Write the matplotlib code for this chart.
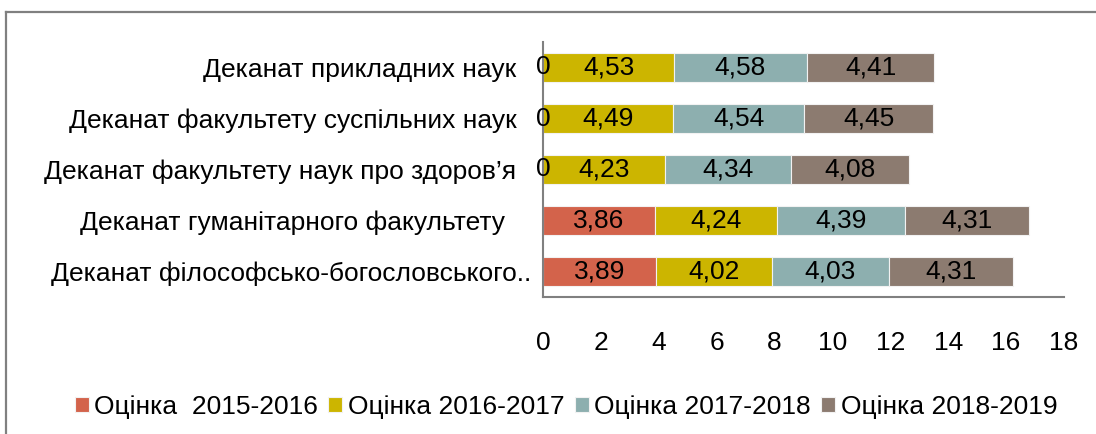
import matplotlib
matplotlib.use("Agg")
import matplotlib.pyplot as plt
from matplotlib.lines import Line2D
from matplotlib.transforms import ScaledTranslation

plt.rcParams['font.family'] = ['Liberation Sans', 'DejaVu Sans']

categories = [
    "Деканат прикладних наук",
    "Деканат факультету суспільних наук",
    "Деканат факультету наук про здоров’я",
    "Деканат гуманітарного факультету",
    "Деканат філософсько-богословського..",
]
series_names = ["Оцінка  2015-2016", "Оцінка 2016-2017", "Оцінка 2017-2018", "Оцінка 2018-2019"]
s2015 = [0, 0, 0, 3.86, 3.89]
s2016 = [4.53, 4.49, 4.23, 4.24, 4.02]
s2017 = [4.58, 4.54, 4.34, 4.39, 4.03]
s2018 = [4.41, 4.45, 4.08, 4.31, 4.31]
xticks = [0, 2, 4, 6, 8, 10, 12, 14, 16, 18]

colors = ["#D3634B", "#CCB500", "#8DAFAF", "#8C7B70"]
FS = 19

fig = plt.figure(figsize=(10.96, 4.34), dpi=100)
ax = fig.add_axes([543/1096, 1-297/434, (1064-543)/1096, (297-42)/434])

ypos = list(range(len(categories)))
left = [0.0]*len(categories)
for vals, name, col in zip([s2015, s2016, s2017, s2018], series_names, colors):
    bars = ax.barh(ypos, vals, left=left, height=0.58, color=col, label=name,
                   edgecolor="#f2f2f2", linewidth=0.8)
    labels = [("0" if v == 0 else f"{v:.2f}".replace(".", ",")) for v in vals]
    ax.bar_label(bars, labels=labels, label_type="center", fontsize=FS, color="black")
    left = [l + v for l, v in zip(left, vals)]

ax.set_ylim(len(categories)-0.5, -0.5)
ax.set_xlim(0, 18)
ax.set_xticks(xticks)
ax.set_xticklabels([str(t) for t in xticks])
ax.set_yticks(ypos)
ax.set_yticklabels(categories)
ax.tick_params(axis="x", length=0, pad=24.5, labelsize=FS)
ax.tick_params(axis="y", length=0, pad=19, labelsize=FS)

shifts = [0, 0, 0, -12, 15]
for lab, dx in zip(ax.get_yticklabels(), shifts):
    lab.set_transform(lab.get_transform() + ScaledTranslation(dx/100, 0, fig.dpi_scale_trans))

for s in ["top", "right"]:
    ax.spines[s].set_visible(False)
for s in ["left", "bottom"]:
    ax.spines[s].set_color("#808080")
    ax.spines[s].set_linewidth(1.5)

leg = fig.legend(loc="center", bbox_to_anchor=(566/1096, 1-407/434), ncol=4, frameon=False,
                 fontsize=FS, handlelength=0.53, handleheight=0.5, handletextpad=0.2,
                 columnspacing=0.4, borderpad=0)

# outer frame
fig.add_artist(Line2D([6/1096, 6/1096], [0, 1-12/434], transform=fig.transFigure, color="#808080", lw=1.6))
fig.add_artist(Line2D([6/1096, 1], [1-12/434, 1-12/434], transform=fig.transFigure, color="#808080", lw=1.6))

fig.savefig("out.png", dpi=100)
